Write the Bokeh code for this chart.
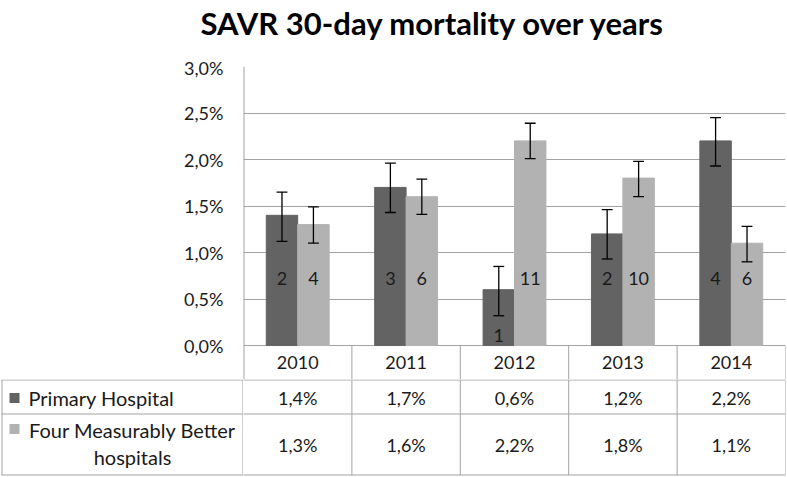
from bokeh.plotting import figure
from bokeh.models import FactorRange, Range1d, ColumnDataSource, FixedTicker, CustomJSTickFormatter
from bokeh.transform import dodge
from bokeh.layouts import column, row
from bokeh.embed import file_html
from bokeh.resources import INLINE

# ---------------- data ----------------
title_text = "SAVR 30-day mortality over years"
years = ["2010", "2011", "2012", "2013", "2014"]
series_names = ["Primary Hospital", "Four Measurably Better\nhospitals"]
primary = [1.4, 1.7, 0.6, 1.2, 2.2]
better = [1.3, 1.6, 2.2, 1.8, 1.1]
primary_lower = [1.12, 1.43, 0.32, 0.93, 1.93]
primary_upper = [1.65, 1.96, 0.85, 1.46, 2.45]
better_lower = [1.10, 1.41, 2.01, 1.60, 0.90]
better_upper = [1.49, 1.79, 2.39, 1.98, 1.28]
primary_n = [2, 3, 1, 2, 4]
better_n = [4, 6, 11, 10, 6]
y_ticks = [0, 0.5, 1.0, 1.5, 2.0, 2.5, 3.0]

# ---------------- style ----------------
DARK = "#636363"
LIGHT = "#b2b2b2"
GRID = "#a3a3a3"
TEXT = "#1a1a1a"
FONT = "Lato"
FS = "18px"
FS_ROW = "20px"
F = {"value": FONT}

W = 787
HT = 56          # title strip
HA = 323
HB = 97
BL = 243
BR = 2
BT = 10
Y_MIN = -34 / 93.0   # header row below zero

def fmt(v):
    return ("%.1f" % v).replace(".", ",") + "%"

def bare(p):
    p.grid.visible = False
    return p

src = ColumnDataSource(dict(
    year=years, primary=primary, better=better,
    pl=primary_lower, pu=primary_upper, bl=better_lower, bu=better_upper,
    pn=[str(n) for n in primary_n], bn=[str(n) for n in better_n],
    pny=[0.72 if v > 1.0 else 0.11 for v in primary],
    bny=[0.72 if v > 1.0 else 0.11 for v in better],
    pv=[fmt(v) for v in primary], bv=[fmt(v) for v in better],
))

# ---------------- title strip ----------------
pT = figure(width=W, height=HT, x_range=Range1d(0, W), y_range=Range1d(HT, 0),
            output_backend="svg", toolbar_location=None,
            min_border_left=0, min_border_right=0, min_border_top=0, min_border_bottom=0,
            x_axis_location=None, y_axis_location=None, outline_line_color=None)
bare(pT)
pT.text(x=[200], y=[22], text=[title_text], text_align="left", text_baseline="middle",
        text_font=F, text_font_size="31px", text_font_style="bold", text_color="#000000")

# ---------------- chart figure ----------------
pA = figure(width=W, height=HA, x_range=FactorRange(*years), y_range=Range1d(Y_MIN, 3.0),
            output_backend="svg", toolbar_location=None,
            min_border_left=BL, min_border_right=BR, min_border_top=BT, min_border_bottom=0,
            x_axis_location=None, outline_line_color=None, background_fill_color="white")

ya = pA.yaxis[0]
ya.ticker = FixedTicker(ticks=y_ticks)
ya.formatter = CustomJSTickFormatter(code="return tick.toFixed(1).replace('.', ',') + '%';")
ya.axis_line_color = None
ya.major_tick_line_color = None
ya.minor_tick_line_color = None
ya.major_tick_out = 0
ya.major_tick_in = 0
ya.major_label_standoff = 20
ya.major_label_text_font = FONT
ya.major_label_text_font_size = FS
ya.major_label_text_color = TEXT
pA.ygrid.grid_line_color = GRID
pA.ygrid.grid_line_width = 1
pA.xgrid.grid_line_color = None

off = 0.145
bw = 0.29
cap = 0.05
xr = pA.x_range

pA.vbar(x=dodge("year", -off, range=xr), top="primary", width=bw, color=DARK, source=src)
pA.vbar(x=dodge("year", off, range=xr), top="better", width=bw, color=LIGHT, source=src)

for o, lo, hi in ((-off, "pl", "pu"), (off, "bl", "bu")):
    pA.segment(x0=dodge("year", o, range=xr), y0=lo, x1=dodge("year", o, range=xr), y1=hi,
               line_color="black", line_width=1.3, source=src)
    for yy in (lo, hi):
        pA.segment(x0=dodge("year", o - cap, range=xr), y0=yy, x1=dodge("year", o + cap, range=xr), y1=yy,
                   line_color="black", line_width=1.3, source=src)

pA.text(x=dodge("year", -off, range=xr), y="pny", text="pn", source=src, text_align="center",
        text_baseline="middle", text_font=F, text_font_size=FS, text_color=TEXT)
pA.text(x=dodge("year", off, range=xr), y="bny", text="bn", source=src, text_align="center",
        text_baseline="middle", text_font=F, text_font_size=FS, text_color=TEXT)

# header row: year labels and column boundaries
pA.text(x="year", y=Y_MIN / 2, text="year", source=src, text_align="center", text_baseline="middle",
        text_font=F, text_font_size=FS, text_color=TEXT)
pA.segment(x0=dodge("year", 0.5, range=xr), y0=Y_MIN, x1=dodge("year", 0.5, range=xr), y1=0,
           line_color=GRID, line_width=1, source=src)
first = ColumnDataSource(dict(year=[years[0]]))
pA.segment(x0=dodge("year", -0.5, range=xr), y0=Y_MIN, x1=dodge("year", -0.5, range=xr), y1=3.0,
           line_color=GRID, line_width=2, source=first)

# ---------------- table: left label column ----------------
RY = [0, -34, -95]
pL = figure(width=BL, height=HB, x_range=Range1d(0, BL), y_range=Range1d(-96.5, 0.5),
            output_backend="svg", toolbar_location=None,
            min_border_left=0, min_border_right=0, min_border_top=0, min_border_bottom=0,
            x_axis_location=None, y_axis_location=None, outline_line_color=None)
bare(pL)
pL.segment(x0=[1] * 3, y0=RY, x1=[BL] * 3, y1=RY, line_color=GRID, line_width=1)
pL.segment(x0=[1.5, BL - 0.5], y0=[0, 0], x1=[1.5, BL - 0.5], y1=[RY[-1]] * 2, line_color=GRID, line_width=1)
pL.scatter(x=[14, 14], y=[-18, -49], marker="square", size=10, color=[DARK, LIGHT], line_color=None)
pL.text(x=[28], y=[-18], text=[series_names[0]], text_align="left", text_baseline="middle",
        text_font=F, text_font_size=FS_ROW, text_color=TEXT)
pL.text(x=[132], y=[-63.5], text=[series_names[1]], text_align="center", text_baseline="middle",
        text_font=F, text_font_size=FS_ROW, text_color=TEXT, text_line_height=1.12)

# ---------------- table: value columns ----------------
pR = figure(width=W - BL, height=HB, x_range=xr, y_range=Range1d(-96.5, 0.5),
            output_backend="svg", toolbar_location=None,
            min_border_left=0, min_border_right=BR, min_border_top=0, min_border_bottom=0,
            x_axis_location=None, y_axis_location=None, outline_line_color=None)
bare(pR)
edges = ColumnDataSource(dict(x0=[years[0]] * 3, x1=[years[-1]] * 3, y=RY))
pR.segment(x0=dodge("x0", -0.5, range=xr), y0="y", x1=dodge("x1", 0.5, range=xr), y1="y",
           line_color=GRID, line_width=1, source=edges)
pR.segment(x0=dodge("year", 0.5, range=xr), y0=0, x1=dodge("year", 0.5, range=xr), y1=RY[-1],
           line_color=GRID, line_width=1, source=src)
pR.text(x="year", y=-18, text="pv", source=src, text_align="center", text_baseline="middle",
        text_font=F, text_font_size=FS, text_color=TEXT)
pR.text(x="year", y=-64.5, text="bv", source=src, text_align="center", text_baseline="middle",
        text_font=F, text_font_size=FS, text_color=TEXT)

layout = column(row(pT, spacing=0), pA, row(pL, pR, spacing=0), spacing=0)
open("out.html", "w").write(file_html(layout, INLINE))
